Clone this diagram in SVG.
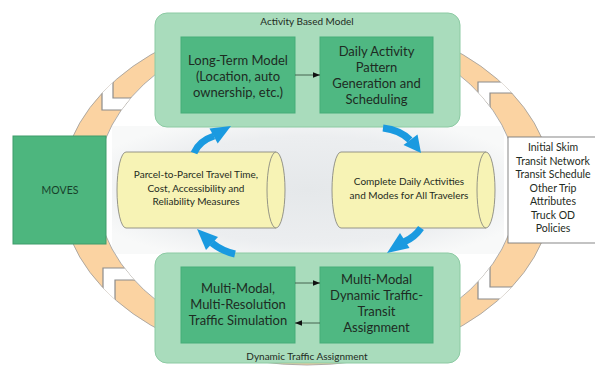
<svg xmlns="http://www.w3.org/2000/svg" width="595" height="368" viewBox="0 0 595 368">
<style>
text{font-family:Lato,"Open Sans","Liberation Sans",sans-serif;fill:#1e2b22;text-anchor:middle}
.cont{fill:#a9dcbc;stroke:#8ccaa3;stroke-width:1}
.inner{fill:#4fb882;stroke:#46ad78;stroke-width:1}
.big{font-size:13px}
.lbl{font-size:10px}
.cyl{fill:#f7f3b5;stroke:#8a8a80;stroke-width:0.9}
.sm{font-size:10px}
.rt{font-size:10.5px}
.blue{fill:none;stroke:#1a9ae0;stroke-width:7}
.bhead{fill:#1a9ae0}
.conn{stroke:#3b5544;stroke-width:0.9;fill:none}
.chev{fill:#ffffff;stroke:#8c8c8c;stroke-width:1.2}
</style>
<defs>
<marker id="ah" viewBox="0 0 10 10" refX="10" refY="5" markerWidth="7" markerHeight="7" orient="auto-start-reverse" markerUnits="userSpaceOnUse">
<path d="M0,1 L10,5 L0,9 Z" fill="#111"/>
</marker>
<radialGradient id="gbg" cx="0.5" cy="0.5" r="0.6">
<stop offset="0" stop-color="#e5e8ea"/>
<stop offset="0.7" stop-color="#eceef0"/>
<stop offset="1" stop-color="#f8f9f9"/>
</radialGradient>
<clipPath id="ringclip">
<path clip-rule="evenodd" d="M61,190 A246,175 0 1 0 553,190 A246,175 0 1 0 61,190 Z M96,187 A211,162 0 1 0 518,187 A211,162 0 1 0 96,187 Z"/>
</clipPath>
</defs>
<rect width="595" height="368" fill="#ffffff"/>
<rect x="112" y="126" width="392" height="128" fill="url(#gbg)"/>

<g id="ring">
<path fill="#fbd3a2" stroke="#9a9a9a" stroke-width="0.8" fill-rule="evenodd" d="M61,190 A246,175 0 1 0 553,190 A246,175 0 1 0 61,190 Z M96,187 A211,162 0 1 0 518,187 A211,162 0 1 0 96,187 Z"/>
<g clip-path="url(#ringclip)">
<polygon class="chev" points="102,40 113,40 113,98 180,98 180,110 102,110"/>
<polygon class="chev" points="478,82 570,82 570,93 490,93 490,130 478,130"/>
<polygon class="chev" points="103,268 180,268 180,280 115,280 115,340 103,340"/>
<polygon class="chev" points="478,245 490,245 490,287 570,287 570,299 478,299"/>
</g>
</g>

<g id="activity-based-model">
<rect class="cont" x="155" y="13" width="305" height="114" rx="12"/>
<text class="lbl" x="307" y="25">Activity Based Model</text>
</g>
<g id="long-term-model">
<rect class="inner" x="181" y="37" width="114" height="76"/>
<text class="big" x="238" y="65">Long-Term Model</text>
<text class="big" x="238" y="81">(Location, auto</text>
<text class="big" x="238" y="97">ownership, etc.)</text>
</g>
<g id="daily-activity">
<rect class="inner" x="320" y="37" width="113" height="76"/>
<text class="big" x="376.5" y="56">Daily Activity</text>
<text class="big" x="376.5" y="72">Pattern</text>
<text class="big" x="376.5" y="88">Generation and</text>
<text class="big" x="376.5" y="104">Scheduling</text>
</g>

<g id="dynamic-traffic-assignment">
<rect class="cont" x="155" y="253" width="305" height="110" rx="12"/>
<text class="lbl" x="307" y="360">Dynamic Traffic Assignment</text>
</g>
<g id="traffic-simulation">
<rect class="inner" x="181" y="267" width="114" height="76"/>
<text class="big" x="238" y="293">Multi-Modal,</text>
<text class="big" x="238" y="309">Multi-Resolution</text>
<text class="big" x="238" y="325">Traffic Simulation</text>
</g>
<g id="transit-assignment">
<rect class="inner" x="320" y="267" width="113" height="76"/>
<text class="big" x="376.5" y="284">Multi-Modal</text>
<text class="big" x="376.5" y="300">Dynamic Traffic-</text>
<text class="big" x="376.5" y="316">Transit</text>
<text class="big" x="376.5" y="332">Assignment</text>
</g>

<g id="moves">
<rect x="13" y="136" width="93" height="108" fill="#4db67e" stroke="#3f9c6a" stroke-width="1"/>
<text class="rt" x="60" y="194" style="fill:#17402a">MOVES</text>
</g>

<g id="inputs">
<rect x="508" y="137" width="92" height="106" fill="#ffffff" stroke="#7a7a7a" stroke-width="0.9"/>
<text class="rt" x="553" y="151">Initial Skim</text>
<text class="rt" x="553" y="164.5">Transit Network</text>
<text class="rt" x="553" y="178">Transit Schedule</text>
<text class="rt" x="553" y="191.5">Other Trip</text>
<text class="rt" x="553" y="205">Attributes</text>
<text class="rt" x="553" y="218.5">Truck OD</text>
<text class="rt" x="553" y="232">Policies</text>
</g>

<g id="travel-time-cylinder">
<path class="cyl" d="M126,152 L276,152 A9,38 0 0 1 276,228 L126,228 A9,38 0 0 1 126,152 Z"/>
<path class="cyl" d="M276,152 A9,38 0 0 0 276,228" fill="none"/>
<text class="sm" x="196" y="178">Parcel-to-Parcel Travel Time,</text>
<text class="sm" x="196" y="191.5">Cost, Accessibility and</text>
<text class="sm" x="196" y="205">Reliability Measures</text>
</g>

<g id="activities-cylinder">
<path class="cyl" d="M341,152 L486,152 A9,38 0 0 1 486,228 L341,228 A9,38 0 0 1 341,152 Z"/>
<path class="cyl" d="M486,152 A9,38 0 0 0 486,228" fill="none"/>
<text class="sm" x="409" y="185">Complete Daily Activities</text>
<text class="sm" x="409" y="199">and Modes for All Travelers</text>
</g>

<g id="connectors">
<line class="conn" x1="295" y1="75" x2="320" y2="75" marker-end="url(#ah)"/>
<line class="conn" x1="295" y1="283" x2="320" y2="283" marker-end="url(#ah)"/>
<line class="conn" x1="320" y1="323" x2="295" y2="323" marker-end="url(#ah)"/>
<path class="blue" d="M194,153 Q199,141 214,136"/>
<polygon class="bhead" points="231,126 217.7,143.5 209.5,128.5"/>
<path class="blue" d="M383,128 Q400,130 410,140"/>
<polygon class="bhead" points="421,153 417.5,134.5 403.5,145"/>
<path class="blue" d="M421,228 Q415,237 404,242"/>
<polygon class="bhead" points="387,253 409.5,248 400,233"/>
<path class="blue" d="M235,254 Q222,251 212,243"/>
<polygon class="bhead" points="197,229 218,237 206,250"/>
</g>
</svg>
